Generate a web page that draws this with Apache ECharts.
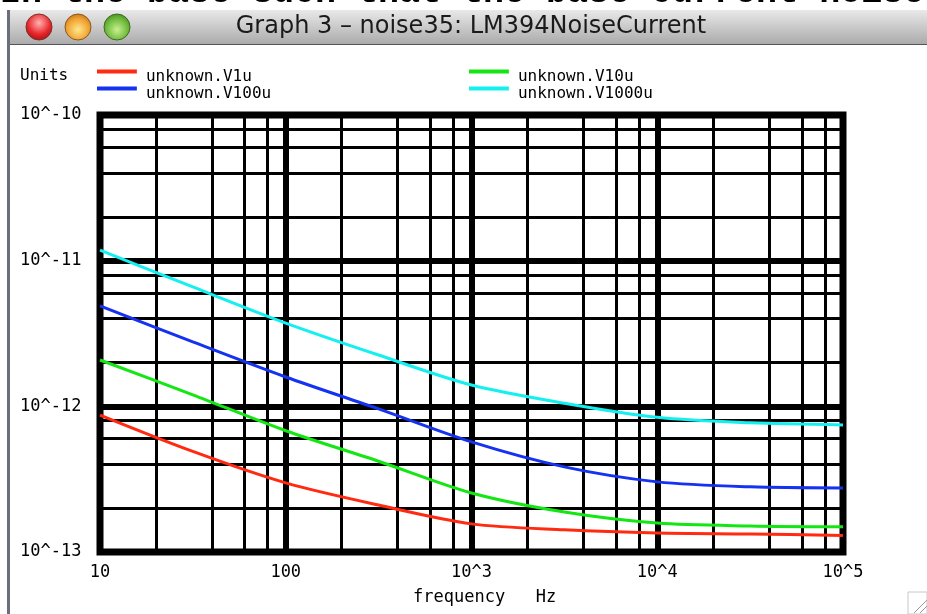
<!DOCTYPE html>
<html lang="en">
<head>
    <meta charset="UTF-8">
    <title>Graph 3 - noise35: LM394NoiseCurrent</title>
    <script src="https://cdn.jsdelivr.net/npm/echarts@6/dist/echarts.min.js"></script>
    <style>
        html, body { margin: 0; padding: 0; background: #fff; }
    </style>
</head>
<body>
    <div style="width: 927px; height: 614px" id="main"></div>
    <script type="text/javascript">
        // frequency points (Hz)
        var freqs = [10, 31.6, 100, 316, 1000, 3162, 10000, 31623, 100000];

        var v1u    = [8.7e-13, 4.9e-13, 2.98e-13, 2.1e-13, 1.56e-13, 1.42e-13, 1.35e-13, 1.33e-13, 1.30e-13];
        var v10u   = [2.08e-12, 1.20e-12, 6.8e-13, 4.2e-13, 2.54e-13, 1.88e-13, 1.58e-13, 1.51e-13, 1.49e-13];
        var v100u  = [4.9e-12, 2.77e-12, 1.59e-12, 9.6e-13, 5.7e-13, 3.84e-13, 3.03e-13, 2.80e-13, 2.75e-13];
        var v1000u = [1.18e-11, 6.6e-12, 3.73e-12, 2.25e-12, 1.40e-12, 1.05e-12, 8.4e-13, 7.7e-13, 7.45e-13];

        var xTicks = [10, 100, 1000, 10000, 100000];
        var xTickLabels = ['10', '100', '10^3', '10^4', '10^5'];
        var yTicks = [1e-13, 1e-12, 1e-11, 1e-10];
        var yTickLabels = ['10^-13', '10^-12', '10^-11', '10^-10'];
        var minorSteps = [2, 4, 6, 8];

        // minor grid at 2,4,6,8 of each decade
        var xMinor = [], yMinor = [];
        xTicks.slice(0, -1).forEach(function (d) {
            minorSteps.forEach(function (m) { xMinor.push(d * m); });
        });
        yTicks.slice(0, -1).forEach(function (d) {
            minorSteps.forEach(function (m) { yMinor.push(d * m); });
        });

        var pair = function (vals) {
            return freqs.map(function (f, i) { return [f, vals[i]]; });
        };
        var nearest = function (arr, v) {
            var best = 0;
            arr.forEach(function (t, i) {
                if (Math.abs(Math.log10(t) - Math.log10(v)) < Math.abs(Math.log10(arr[best]) - Math.log10(v))) best = i;
            });
            return best;
        };

        var mono = 'DejaVu Sans Mono';
        var myChart = echarts.init(document.getElementById('main'));

        var xMin = xTicks[0], xMax = xTicks[xTicks.length - 1];
        var yMin = yTicks[0], yMax = yTicks[yTicks.length - 1];
        var minorLines = [];
        xMinor.forEach(function (x) { minorLines.push([{coord: [x, yMin]}, {coord: [x, yMax]}]); });
        yMinor.forEach(function (y) { minorLines.push([{coord: [xMin, y]}, {coord: [xMax, y]}]); });

        var lineSeries = function (name, color, vals) {
            return {
                name: name,
                type: 'line',
                data: pair(vals),
                smooth: 0.3,
                showSymbol: false,
                symbol: 'none',
                z: 5,
                lineStyle: {color: color, width: 3},
                itemStyle: {color: color}
            };
        };

        // legend icon: a bar at the top of a taller box, so it sits above the text middle
        var legendIcon = 'path://M0,0H40V4H0Z M0,14H0.05V14.05H0Z';

        var option = {
            backgroundColor: '#fff',
            animation: false,
            graphic: [
                // partly cut text from the page behind the window
                {type: 'text', z: 100, style: {text: 'In the base such that the base current noise', x: 0, y: 11, verticalAlign: 'bottom', font: 'bold 35px "Liberation Mono"', fill: '#000'}},
                // window left border
                {type: 'rect', shape: {x: 7, y: 10, width: 3, height: 604}, style: {fill: '#6b6f7a'}},
                // title bar
                {type: 'rect', shape: {x: 10, y: 10, width: 917, height: 35},
                    style: {fill: new echarts.graphic.LinearGradient(0, 0, 0, 1, [
                        {offset: 0, color: '#e9e9e9'}, {offset: 1, color: '#a9a9a9'}])}},
                {type: 'rect', shape: {x: 10, y: 44, width: 917, height: 1}, style: {fill: '#555'}},
                {type: 'circle', shape: {cx: 39, cy: 27, r: 13}, style: {stroke: '#7a3030', lineWidth: 1,
                    fill: new echarts.graphic.RadialGradient(0.5, 0.35, 0.7, [
                        {offset: 0, color: '#ffb3b3'}, {offset: 0.6, color: '#e8262a'}, {offset: 1, color: '#9b1010'}])}},
                {type: 'circle', shape: {cx: 78, cy: 27, r: 13}, style: {stroke: '#8a5a20', lineWidth: 1,
                    fill: new echarts.graphic.RadialGradient(0.5, 0.6, 0.7, [
                        {offset: 0, color: '#ffe88a'}, {offset: 0.6, color: '#f0a030'}, {offset: 1, color: '#a86010'}])}},
                {type: 'circle', shape: {cx: 117, cy: 27, r: 13}, style: {stroke: '#3f6a20', lineWidth: 1,
                    fill: new echarts.graphic.RadialGradient(0.5, 0.6, 0.7, [
                        {offset: 0, color: '#c8f090'}, {offset: 0.6, color: '#6cb83a'}, {offset: 1, color: '#2f7a18'}])}},
                {type: 'text', style: {text: 'Graph 3 \u2013 noise35: LM394NoiseCurrent', x: 471, y: 27, align: 'center', verticalAlign: 'middle',
                    font: '24px "DejaVu Sans"', fill: '#1a1a1a'}},
                // legend caption
                {type: 'text', style: {text: 'Units', x: 20, y: 76, verticalAlign: 'middle', font: '16px "' + mono + '"', fill: '#000'}},
                // axis name
                {type: 'text', style: {text: 'frequency   Hz', x: 413, y: 598, verticalAlign: 'middle', font: '17px "' + mono + '"', fill: '#000'}},
                // resize grip
                {type: 'rect', shape: {x: 908, y: 592, width: 19, height: 22}, style: {fill: '#fff', stroke: '#c8c8c8', lineWidth: 1}},
                {type: 'line', shape: {x1: 914, y1: 613, x2: 927, y2: 600}, style: {stroke: '#999', lineWidth: 1}},
                {type: 'line', shape: {x1: 920, y1: 613, x2: 927, y2: 606}, style: {stroke: '#999', lineWidth: 1}}
            ],
            legend: [
                {
                    data: ['unknown.V1u', 'unknown.V100u'],
                    orient: 'vertical', left: 97, top: 68, itemGap: 0, padding: 0,
                    itemWidth: 40, itemHeight: 14, icon: legendIcon,
                    textStyle: {fontFamily: mono, fontSize: 16, color: '#000', lineHeight: 17, padding: [0, 0, 0, 4]}
                },
                {
                    data: ['unknown.V10u', 'unknown.V1000u'],
                    orient: 'vertical', left: 469, top: 68, itemGap: 0, padding: 0,
                    itemWidth: 40, itemHeight: 14, icon: legendIcon,
                    textStyle: {fontFamily: mono, fontSize: 16, color: '#000', lineHeight: 17, padding: [0, 0, 0, 4]}
                }
            ],
            grid: {
                left: 100, top: 115, right: 84, bottom: 62,
                show: true, borderColor: '#000', borderWidth: 7, backgroundColor: '#fff'
            },
            xAxis: {
                type: 'log', logBase: 10, min: xMin, max: xMax,
                axisLine: {show: false},
                axisTick: {show: false},
                splitLine: {show: true, lineStyle: {color: '#000', width: 6}},
                axisLabel: {
                    fontFamily: mono, fontSize: 17, color: '#000', margin: 12,
                    formatter: function (v) { return xTickLabels[nearest(xTicks, v)]; }
                }
            },
            yAxis: {
                type: 'log', logBase: 10, min: yMin, max: yMax,
                axisLine: {show: false},
                axisTick: {show: false},
                splitLine: {show: true, lineStyle: {color: '#000', width: 6}},
                axisLabel: {
                    fontFamily: mono, fontSize: 17, color: '#000', margin: 80, align: 'left',
                    formatter: function (v) { return yTickLabels[nearest(yTicks, v)]; }
                }
            },
            series: [
                {
                    name: 'grid',
                    type: 'line',
                    data: [],
                    z: 1,
                    silent: true,
                    markLine: {
                        symbol: 'none',
                        silent: true,
                        animation: false,
                        label: {show: false},
                        emphasis: {disabled: true},
                        lineStyle: {color: '#000', width: 3, type: 'solid'},
                        data: minorLines
                    }
                },
                lineSeries('unknown.V1u', '#ff2a10', v1u),
                lineSeries('unknown.V10u', '#14e614', v10u),
                lineSeries('unknown.V100u', '#1432f0', v100u),
                lineSeries('unknown.V1000u', '#14f0f0', v1000u)
            ]
        };

        myChart.setOption(option);
    </script>
</body>
</html>
